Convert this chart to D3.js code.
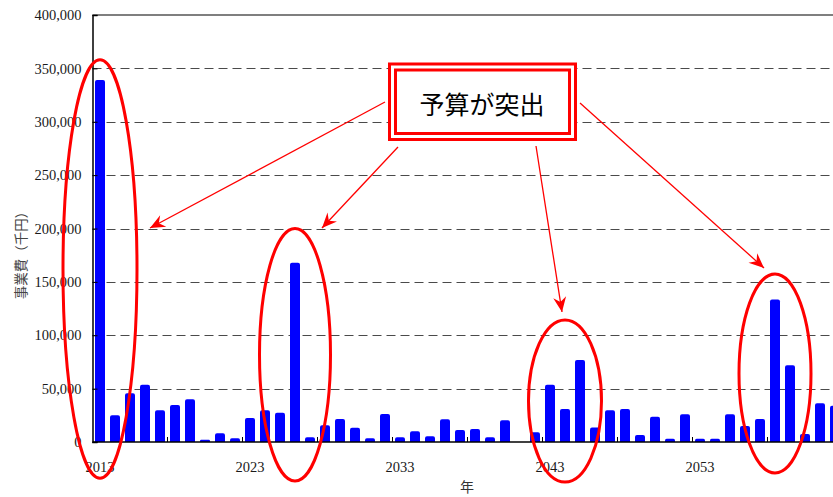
<!DOCTYPE html>
<html lang="ja">
<head>
<meta charset="utf-8">
<script src="https://cdn.jsdelivr.net/npm/d3@7"></script>
<style>
  html, body { margin: 0; padding: 0; background: #fff; }
  svg { display: block; }
</style>
</head>
<body>
<svg id="chart" width="833" height="497"></svg>
<script>
// Annual project cost (thousand yen), 2013-2062
const years = d3.range(2013, 2063);
const costs = [
  339000, 25000, 45700, 53700, 29700, 34700, 40000, 2200, 8100, 3400,
  22500, 29700, 27500, 168000, 4400, 15600, 21600, 13400, 3400, 26200,
  4400, 10000, 5300, 21300, 11200, 12200, 4400, 20300, 0, 9100,
  53700, 30900, 76800, 13700, 29700, 30900, 6500, 23700, 3100, 25900,
  3100, 3100, 25900, 15000, 21500, 133600, 71800, 7500, 36200, 34000
];
const yTicks = [0, 50000, 100000, 150000, 200000, 250000, 300000, 350000, 400000];
const xLabelYears = [2013, 2023, 2033, 2043, 2053];
const xTickEvery = 5;

// Circled spikes: centre year plus top/bottom extent in value units
const highlights = [
  { year: 2013, top: 358000, bottom: -34000, rx: 37 },
  { year: 2026, top: 200000, bottom: -36500, rx: 35.5 },
  { year: 2044, top: 114300, bottom: -37500, rx: 36.5 },
  { year: 2058, top: 157400, bottom: -29000, rx: 36 }
];
const calloutText = "予算が突出";

const svg = d3.select("#chart");
const plot = { left: 92.5, top: 15, bottom: 442 };

const x = d3.scaleBand()
  .domain(years)
  .range([plot.left, plot.left + years.length * 15])
  .paddingInner(1 / 3)
  .paddingOuter(1 / 6);

const y = d3.scaleLinear().domain([0, 400000]).range([plot.bottom, plot.top]);
const right = x.range()[1];
const fmt = d3.format(",");

// dashed gridlines
svg.append("g")
  .selectAll("line")
  .data(yTicks.filter(v => v > 0 && v < 400000))
  .join("line")
  .attr("x1", plot.left).attr("x2", right)
  .attr("y1", d => Math.round(y(d)) + 0.5).attr("y2", d => Math.round(y(d)) + 0.5)
  .attr("stroke", "#4a4a4a")
  .attr("stroke-width", 1)
  .attr("stroke-dasharray", "9,5");

// top frame line
svg.append("line")
  .attr("x1", plot.left).attr("x2", right)
  .attr("y1", y(400000)).attr("y2", y(400000))
  .attr("stroke", "#000").attr("stroke-width", 1.2);

// bars with slightly rounded tops
const r = 2;
svg.append("g")
  .selectAll("path")
  .data(years.map((yr, i) => ({ yr, v: costs[i] })).filter(d => d.v > 0))
  .join("path")
  .attr("fill", "#0000ff")
  .attr("d", d => {
    const x0 = x(d.yr), w = x.bandwidth(), y0 = y(d.v), yb = y(0);
    const rr = Math.min(r, (yb - y0) / 2);
    return `M${x0},${yb}V${y0 + rr}Q${x0},${y0} ${x0 + rr},${y0}H${x0 + w - rr}Q${x0 + w},${y0} ${x0 + w},${y0 + rr}V${yb}Z`;
  });

// y axis
const yAxis = svg.append("g")
  .attr("transform", `translate(${plot.left},0)`)
  .call(d3.axisLeft(y).tickValues(yTicks).tickFormat(fmt).tickSize(-5).tickPadding(11));
yAxis.select(".domain").attr("stroke", "#000").attr("stroke-width", 1.5);
yAxis.selectAll(".tick line").attr("stroke", "#000");
yAxis.selectAll("text")
  .attr("font-family", "'Liberation Serif', 'Times New Roman', serif")
  .attr("font-size", 14.5)
  .attr("fill", "#1a1a1a");

// x axis: tick marks every 5 years on band boundaries, labels every 10 years
svg.append("line")
  .attr("x1", plot.left).attr("x2", right)
  .attr("y1", y(0)).attr("y2", y(0))
  .attr("stroke", "#000").attr("stroke-width", 1.5);
const step = x.step();
svg.append("g")
  .selectAll("line")
  .data(d3.range(xTickEvery, years.length, xTickEvery))
  .join("line")
  .attr("x1", k => plot.left + k * step).attr("x2", k => plot.left + k * step)
  .attr("y1", y(0)).attr("y2", y(0) - 5)
  .attr("stroke", "#000").attr("stroke-width", 1);
svg.append("g")
  .selectAll("text")
  .data(xLabelYears)
  .join("text")
  .attr("x", d => x(d) + x.bandwidth() / 2)
  .attr("y", 472)
  .attr("text-anchor", "middle")
  .attr("font-family", "'Liberation Serif', 'Times New Roman', serif")
  .attr("font-size", 14.5)
  .attr("fill", "#1a1a1a")
  .text(d => d);

// axis titles
svg.append("text")
  .attr("transform", "translate(26,252) rotate(-90)")
  .attr("text-anchor", "middle")
  .attr("font-family", "'Noto Sans CJK JP', sans-serif")
  .attr("font-size", 13.5)
  .attr("fill", "#444")
  .text("事業費（千円）");
svg.append("text")
  .attr("x", 467).attr("y", 492)
  .attr("text-anchor", "middle")
  .attr("font-family", "'Noto Sans CJK JP', sans-serif")
  .attr("font-size", 14)
  .attr("fill", "#333")
  .text("年");

// ellipses around the spikes
svg.append("g")
  .selectAll("ellipse")
  .data(highlights)
  .join("ellipse")
  .attr("cx", d => x(d.year) + x.bandwidth() / 2)
  .attr("cy", d => (y(d.top) + y(d.bottom)) / 2)
  .attr("rx", d => d.rx)
  .attr("ry", d => (y(d.bottom) - y(d.top)) / 2)
  .attr("fill", "none")
  .attr("stroke", "#ff0000")
  .attr("stroke-width", 3);

// arrow marker
svg.append("defs").append("marker")
  .attr("id", "arrowhead")
  .attr("viewBox", "-16 -8 17 16")
  .attr("refX", 0).attr("refY", 0)
  .attr("markerUnits", "userSpaceOnUse")
  .attr("markerWidth", 17).attr("markerHeight", 16)
  .attr("orient", "auto")
  .append("path")
  .attr("d", "M0,0L-15,-6.5L-10,0L-15,6.5Z")
  .attr("fill", "#ff0000");

// callout arrows
const arrows = [
  [[385, 102], [150, 228]],
  [[398, 147], [322, 228]],
  [[536, 146], [562, 312]],
  [[580, 103], [764, 268]]
];
svg.append("g")
  .selectAll("line")
  .data(arrows)
  .join("line")
  .attr("x1", d => d[0][0]).attr("y1", d => d[0][1])
  .attr("x2", d => d[1][0]).attr("y2", d => d[1][1])
  .attr("stroke", "#ff0000")
  .attr("stroke-width", 1.3)
  .attr("marker-end", "url(#arrowhead)");

// callout box with double border
const box = svg.append("g");
box.append("rect")
  .attr("x", 389.5).attr("y", 64).attr("width", 186).attr("height", 75.5)
  .attr("fill", "#fff").attr("stroke", "#ff0000").attr("stroke-width", 3);
box.append("rect")
  .attr("x", 395.5).attr("y", 70).attr("width", 174).attr("height", 63.5)
  .attr("fill", "#fff").attr("stroke", "#ff0000").attr("stroke-width", 3);
box.append("text")
  .attr("x", 482).attr("y", 103)
  .attr("text-anchor", "middle")
  .attr("dominant-baseline", "central")
  .attr("font-family", "'Noto Sans CJK JP', sans-serif")
  .attr("font-size", 25)
  .attr("fill", "#000")
  .text(calloutText);
</script>
</body>
</html>
